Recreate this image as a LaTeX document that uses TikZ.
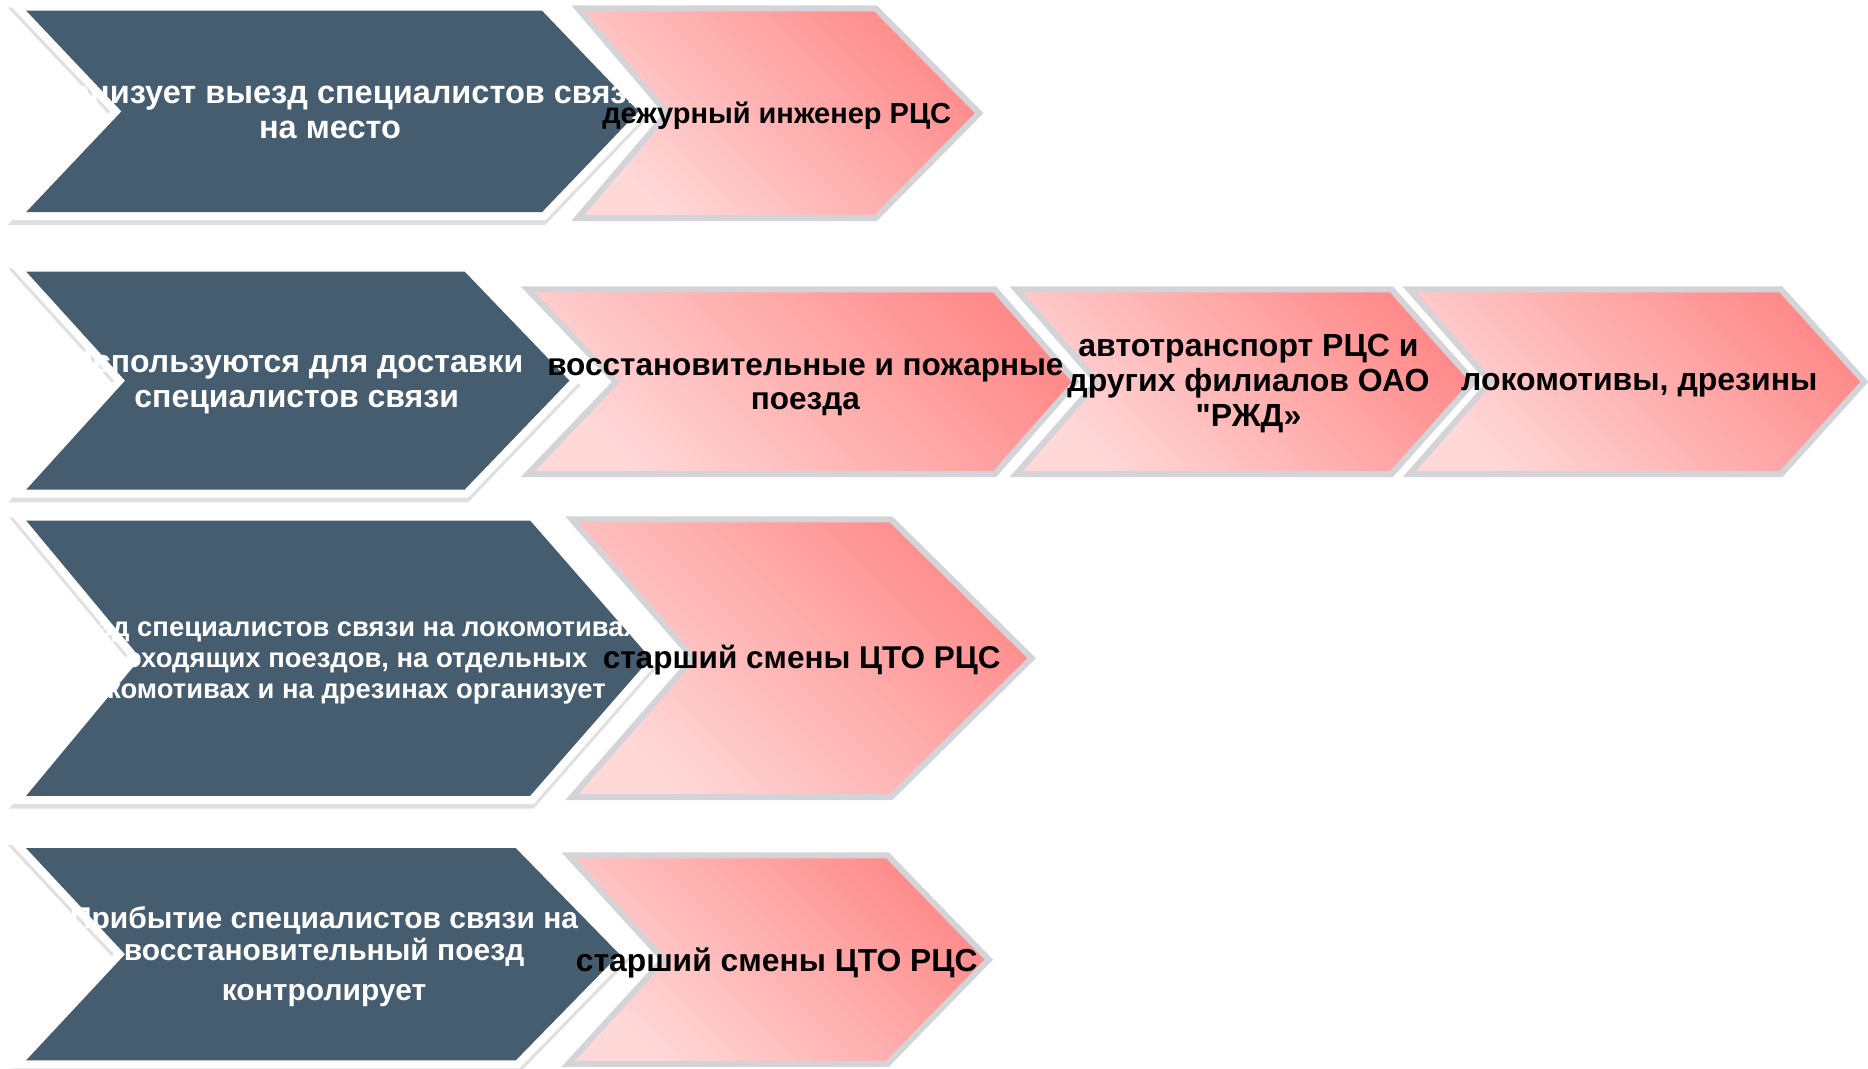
\documentclass[tikz,border=0pt]{standalone}
\usepackage{fontspec}
\setmainfont{Liberation Sans}
\definecolor{darkc}{RGB}{70,92,111}
\definecolor{pinkL}{RGB}{255,216,216}
\definecolor{pinkD}{RGB}{255,138,138}
\definecolor{pinkB}{RGB}{212,212,216}
\tikzset{
  shadowst/.style={draw=black, fill=black, line width=16pt, line join=miter, opacity=0.12},
  whiterim/.style={draw=white, fill=white, line width=16pt, line join=miter},
  darkfill/.style={fill=darkc},
  pinkchev/.style={draw=pinkB, line width=6pt, line join=miter, top color=pinkD, bottom color=pinkL, shading angle=-45},
  wtxt/.style={text=white, align=center, inner sep=0pt},
  btxt/.style={text=black, align=center, inner sep=0pt},
}
% x1 = left x, x2 = top-right x, x3 = tip x, yt = top y, yb = bottom y, xn = notch x
\newcommand{\drawdark}[6]{%
  \pgfmathsetmacro\ym{(#4+#5)/2}%
  \path[shadowst] (#1,{#4+4})--(#2,{#4+4})--(#3,{\ym+4})--(#2,{#5+4})--(#1,{#5+4})--(#6,{\ym+4})--cycle;
  \path[whiterim] (#1,#4)--(#2,#4)--(#3,\ym)--(#2,#5)--(#1,#5)--(#6,\ym)--cycle;
  \path[darkfill] (#1,#4)--(#2,#4)--(#3,\ym)--(#2,#5)--(#1,#5)--(#6,\ym)--cycle;
}
\newcommand{\drawpink}[6]{%
  \pgfmathsetmacro\ym{(#4+#5)/2}%
  \path[pinkchev] (#1,#4)--(#2,#4)--(#3,\ym)--(#2,#5)--(#1,#5)--(#6,\ym)--cycle;
}
\newcommand{\fs}[2]{\bfseries\fontsize{#1}{#2}\selectfont}
\begin{document}
\begin{tikzpicture}[x=1.1913pt, y=-1.1913pt]
\useasboundingbox[fill=white] (0,0) rectangle (1568,897);
% dark chevrons
\drawdark{22}{455}{536}{9}{178}{102}
\drawdark{22}{390}{478}{228}{411}{105}
\drawdark{22}{445}{546}{437}{668}{118}
\drawdark{22}{433}{520}{712}{890}{105}
% white texts
\node[wtxt, font=\fs{32.5}{34.5}] (d1) at (277,92) {Организует выезд специалистов связи\\на место};
\node[wtxt, font=\fs{32}{34.5}] (d2) at (249,321) {Используются для доставки\\специалистов связи};
\node[wtxt, font=\fs{27.4}{31}] (d3) at (285,555) {Выезд специалистов связи на локомотивах\\проходящих поездов, на отдельных\\локомотивах и на дрезинах организует};
\node[wtxt, font=\fs{30}{32}] (d4) at (272,803) {Прибытие специалистов связи на\\восстановительный поезд\\[8pt]контролирует};
% pink chevrons
\drawpink{485}{735}{822}{7}{183}{560}
\drawpink{443}{835}{903}{243}{398}{517}
\drawpink{853}{1168}{1237}{243}{398}{921}
\drawpink{1183}{1495}{1565}{243}{398}{1251}
\drawpink{480}{748}{866}{436}{669}{582}
\drawpink{477}{745}{830}{718}{893}{557}
% black texts
\node[btxt, font=\fs{29}{34}] (p1) at (652,97) {дежурный инженер РЦС};
\node[btxt, font=\fs{31.5}{34.5}] (p2) at (676,325) {восстановительные и пожарные\\поезда};
\node[btxt, font=\fs{32}{35}] (p3) at (1048,322) {автотранспорт РЦС и\\других филиалов ОАО\\\textquotedbl РЖД»};
\node[btxt, font=\fs{32}{35}] (p4) at (1376,323) {локомотивы, дрезины};
\node[btxt, font=\fs{31.5}{35}] (p5) at (673,554) {старший смены ЦТО РЦС};
\node[btxt, font=\fs{31.8}{35}] (p6) at (652,808) {старший смены ЦТО РЦС};
\end{tikzpicture}
\end{document}
